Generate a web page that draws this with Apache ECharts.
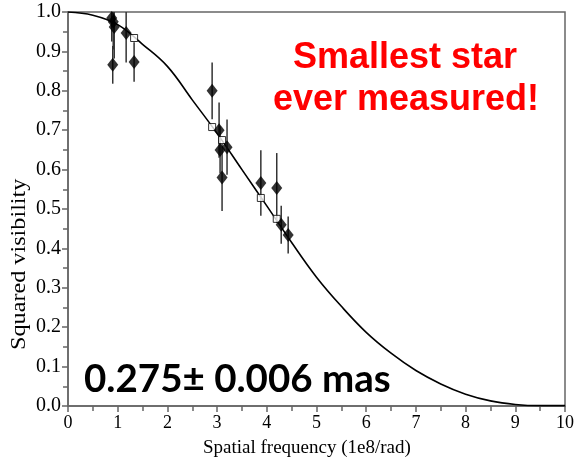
<!DOCTYPE html>
<html>
<head>
<meta charset="utf-8">
<script src="https://cdn.jsdelivr.net/npm/echarts@6/dist/echarts.min.js"></script>
<style>html,body{margin:0;padding:0;background:#fff;}#c{width:577px;height:466px;}</style>
</head>
<body>
<div id="c"></div>
<script>
// Model curve
const curveX = [0, 0.5, 1.0, 1.5, 2.0, 2.5, 3.0, 3.5, 4.0, 4.5, 5.0, 5.5, 6.0, 6.5, 7.0, 7.5, 8.0, 8.5, 9.0, 9.5, 10];
const curveY = [1.0, 0.992, 0.968, 0.918, 0.862, 0.777, 0.692, 0.600, 0.508, 0.415, 0.327, 0.253, 0.187, 0.134, 0.090, 0.056, 0.030, 0.013, 0.004, 0.001, 0.001];
// Observations (diamonds) with error bars
const obsX   = [0.90, 0.88, 0.91, 0.93, 1.17, 1.33, 2.90, 3.04, 3.06, 3.20, 3.10, 3.88, 4.20, 4.29, 4.43];
const obsY   = [0.866, 0.985, 0.975, 0.962, 0.947, 0.873, 0.800, 0.700, 0.650, 0.657, 0.580, 0.566, 0.553, 0.460, 0.434];
const obsErr = [0.048, 0.06, 0.07, 0.08, 0.075, 0.05, 0.072, 0.07, 0.06, 0.07, 0.085, 0.083, 0.089, 0.048, 0.047];
// Model points (open squares)
const modelX = [1.33, 2.90, 3.10, 3.88, 4.20];
const modelY = [0.934, 0.708, 0.675, 0.528, 0.475];

const chart = echarts.init(document.getElementById('c'));
const serif = '"Liberation Serif", "DejaVu Serif", serif';
const axisGrey = '#666';
chart.setOption({
  animation: false,
  grid: {left: 68, right: 12, top: 12, bottom: 60, show: true, borderColor: axisGrey, borderWidth: 1.5, backgroundColor: 'transparent'},
  xAxis: {
    type: 'value', min: 0, max: 10, interval: 1,
    axisLine: {show: true, lineStyle: {color: axisGrey, width: 1.5}},
    axisTick: {show: true, length: 6, lineStyle: {color: axisGrey, width: 1.5}},
    minorTick: {show: true, splitNumber: 2, length: 5, lineStyle: {color: axisGrey, width: 1.5}},
    splitLine: {show: false},
    axisLabel: {color: '#000', fontFamily: serif, fontSize: 18, margin: 8}
  },
  yAxis: {
    type: 'value', min: 0, max: 1, interval: 0.1,
    axisLine: {show: true, lineStyle: {color: axisGrey, width: 1.5}},
    axisTick: {show: true, length: 6, lineStyle: {color: axisGrey, width: 1.5}},
    minorTick: {show: true, splitNumber: 2, length: 5, lineStyle: {color: axisGrey, width: 1.5}},
    splitLine: {show: false},
    axisLabel: {color: '#000', fontFamily: serif, fontSize: 20, margin: 7, formatter: v => v.toFixed(1)}
  },
  graphic: [
    {type: 'text', left: 203, top: 439, style: {text: 'Spatial frequency (1e8/rad)', fill: '#000', font: '19px ' + serif}},
    {type: 'text', rotation: Math.PI / 2, scaleX: 1.21, x: 10, y: 350, style: {text: 'Squared visibility', fill: '#000', font: '20px ' + serif, textVerticalAlign: 'top'}},
    {type: 'text', x: 405, y: 58, style: {text: 'Smallest star', fill: '#ff0000', font: 'bold 36px "Liberation Sans", Arial, sans-serif', textAlign: 'center', textVerticalAlign: 'middle'}},
    {type: 'text', x: 406, y: 100, style: {text: 'ever measured!', fill: '#ff0000', font: 'bold 36px "Liberation Sans", Arial, sans-serif', textAlign: 'center', textVerticalAlign: 'middle'}},
    {type: 'text', x: 84, y: 380, style: {text: '0.275\u00b1 0.006 mas', fill: '#000', font: 'bold 38.5px Lato, "Open Sans", sans-serif', textAlign: 'left', textVerticalAlign: 'middle'}}
  ],
  series: [
    {
      type: 'line', data: curveX.map((x, i) => [x, curveY[i]]), smooth: 0.4, showSymbol: false,
      lineStyle: {color: '#000', width: 1.6}, z: 2
    },
    {
      type: 'custom', clip: true, z: 3,
      data: obsX.map((x, i) => [x, obsY[i], obsErr[i]]),
      renderItem: function (params, api) {
        const x = api.value(0), y = api.value(1), e = api.value(2);
        const p1 = api.coord([x, y + e]);
        const p2 = api.coord([x, y - e]);
        return {type: 'line', shape: {x1: p1[0], y1: p1[1], x2: p2[0], y2: p2[1]}, style: {stroke: '#333', lineWidth: 1.5}};
      }
    },
    {
      type: 'scatter', symbol: 'rect', symbolSize: 7, z: 4,
      data: modelX.map((x, i) => [x, modelY[i]]),
      itemStyle: {color: '#fff', borderColor: '#000', borderWidth: 1}
    },
    {
      type: 'scatter', symbol: 'diamond', symbolSize: [11, 14], z: 5,
      data: obsX.map((x, i) => [x, obsY[i]]),
      itemStyle: {color: '#000'}
    }
  ]
});
</script>
</body>
</html>
